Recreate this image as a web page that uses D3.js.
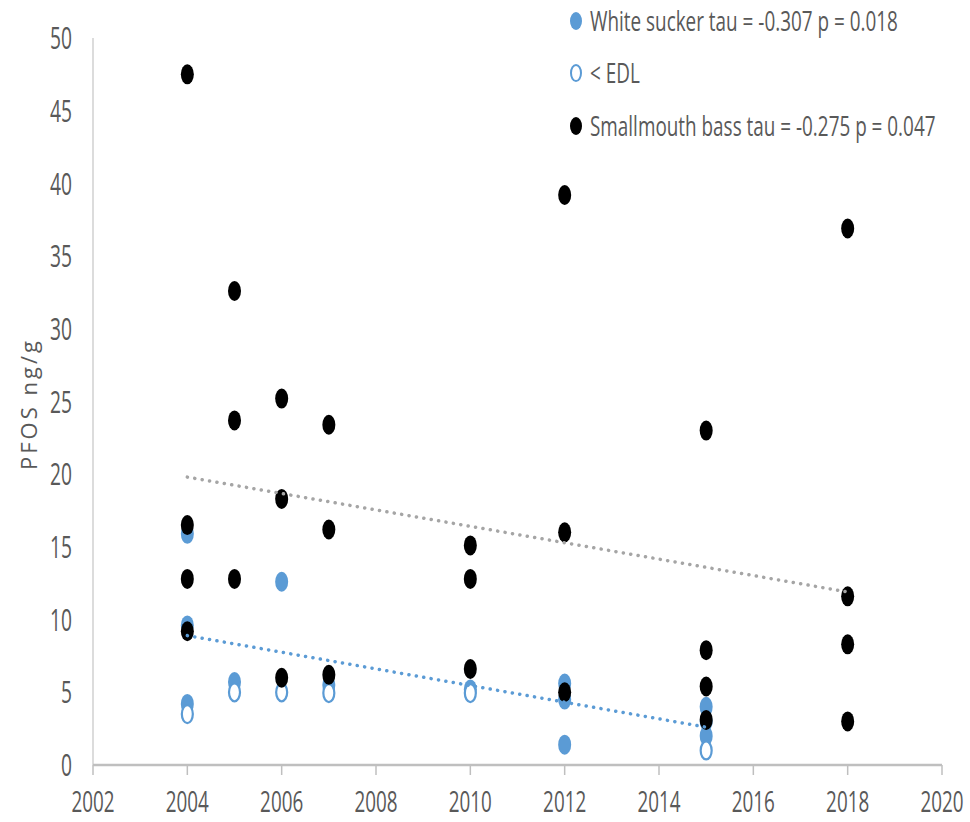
<!DOCTYPE html>
<html lang="en">
<head>
<meta charset="UTF-8">
<title>PFOS ng/g</title>
<style>
    body { margin: 0; padding: 0; background: #fff; }
    text { font-family: "Open Sans", sans-serif; fill: #595959; }
</style>
</head>
<body>
<svg id="chart"></svg>
<script src="https://d3js.org/d3.v7.min.js"></script>
<script>
// White sucker, detected values
var suckerYears  = [2004, 2004, 2004, 2005, 2006, 2007, 2010, 2012, 2012, 2012, 2015, 2015, 2015];
var suckerValues = [15.9, 9.6, 4.2, 5.7, 12.6, 5.5, 5.2, 5.6, 4.5, 1.4, 4.0, 3.0, 2.0];

// White sucker, < EDL
var edlYears  = [2004, 2005, 2006, 2007, 2010, 2015];
var edlValues = [3.5, 5.0, 5.0, 4.95, 4.95, 1.0];

// Smallmouth bass
var bassYears  = [2004, 2004, 2004, 2004, 2005, 2005, 2005, 2006, 2006, 2006, 2007, 2007, 2007,
                  2010, 2010, 2010, 2012, 2012, 2012, 2015, 2015, 2015, 2015, 2018, 2018, 2018, 2018];
var bassValues = [47.5, 16.5, 12.8, 9.2, 32.6, 23.7, 12.8, 25.2, 18.3, 6.0, 23.4, 16.2, 6.2,
                  15.1, 12.8, 6.6, 39.2, 16.0, 5.0, 23.0, 7.9, 5.4, 3.1, 36.9, 11.6, 8.3, 3.0];

// trend lines (start / end)
var suckerTrendYears = [2004, 2015];
var suckerTrendVals  = [8.9, 2.6];
var bassTrendYears   = [2004, 2018];
var bassTrendVals    = [19.8, 11.9];

var xTicks = [2002, 2004, 2006, 2008, 2010, 2012, 2014, 2016, 2018, 2020];
var yTicks = [0, 5, 10, 15, 20, 25, 30, 35, 40, 45, 50];

var legendLabels = ["White sucker tau = -0.307 p = 0.018", "< EDL", "Smallmouth bass tau = -0.275 p = 0.047"];

var blue = "#5b9bd5";

var width = 970, height = 822;
var margin = {top: 38, right: 28, bottom: 57, left: 93};

var svg = d3.select("#chart").attr("width", width).attr("height", height);

var x = d3.scaleLinear().domain([2002, 2020]).range([margin.left, width - margin.right]);
var y = d3.scaleLinear().domain([0, 50]).range([height - margin.bottom, margin.top]);

// the original picture is squeezed sideways, so the text is too
function squeeze(px, py, f) {
    return "translate(" + px + "," + py + ") scale(" + f + ",1)";
}

// y axis
svg.append("line")
    .attr("x1", x(2002)).attr("x2", x(2002))
    .attr("y1", y(50)).attr("y2", y(0))
    .attr("stroke", "#d0d0d0").attr("stroke-width", 1.5);

svg.selectAll(".ylab")
    .data(yTicks)
    .enter().append("text")
    .attr("transform", function (d) { return squeeze(72, y(d), 0.62); })
    .attr("dy", "0.36em")
    .attr("text-anchor", "end")
    .attr("font-size", 31)
    .text(function (d) { return d; });

// x axis
svg.append("line")
    .attr("x1", x(2002)).attr("x2", x(2020))
    .attr("y1", y(0)).attr("y2", y(0))
    .attr("stroke", "#bfbfbf").attr("stroke-width", 2.5);

svg.selectAll(".xtick")
    .data(xTicks)
    .enter().append("line")
    .attr("x1", function (d) { return x(d); })
    .attr("x2", function (d) { return x(d); })
    .attr("y1", y(0)).attr("y2", y(0) + 10)
    .attr("stroke", "#bfbfbf").attr("stroke-width", 1.5);

svg.selectAll(".xlab")
    .data(xTicks)
    .enter().append("text")
    .attr("transform", function (d) { return squeeze(x(d), 812, 0.65); })
    .attr("text-anchor", "middle")
    .attr("font-size", 29)
    .text(function (d) { return d; });

// y title
svg.append("text")
    .attr("transform", "translate(37,404) rotate(-90)")
    .attr("text-anchor", "middle")
    .attr("font-size", 22)
    .attr("letter-spacing", 3)
    .text("PFOS ng/g");

var rx = 6.5, ry = 10;

function dots(years, vals, fill, stroke) {
    svg.append("g").selectAll("ellipse")
        .data(years.map(function (d, i) { return [d, vals[i]]; }))
        .enter().append("ellipse")
        .attr("cx", function (d) { return x(d[0]); })
        .attr("cy", function (d) { return y(d[1]); })
        .attr("rx", stroke ? rx - 1 : rx)
        .attr("ry", stroke ? ry - 1 : ry)
        .attr("fill", fill)
        .attr("stroke", stroke || "none")
        .attr("stroke-width", 2.2);
}

dots(suckerYears, suckerValues, blue);
dots(edlYears, edlValues, "#fff", blue);
dots(bassYears, bassValues, "#000");

function trend(years, vals, color) {
    svg.append("line")
        .attr("x1", x(years[0])).attr("y1", y(vals[0]))
        .attr("x2", x(years[1])).attr("y2", y(vals[1]))
        .attr("stroke", color)
        .attr("stroke-width", 3.5)
        .attr("stroke-linecap", "round")
        .attr("stroke-dasharray", "0.1 7.4");
}

trend(suckerTrendYears, suckerTrendVals, blue);
trend(bassTrendYears, bassTrendVals, "#a5a5a5");

// legend
var legendY = [21, 73, 126];
var lg = svg.append("g");
legendLabels.forEach(function (lab, i) {
    var m = lg.append("ellipse")
        .attr("cx", 576).attr("cy", legendY[i])
        .attr("rx", i === 1 ? 5 : 6).attr("ry", i === 1 ? 8 : 9);
    if (i === 0) m.attr("fill", blue);
    else if (i === 1) m.attr("fill", "#fff").attr("stroke", blue).attr("stroke-width", 2);
    else m.attr("fill", "#000");
    lg.append("text")
        .attr("transform", squeeze(590, legendY[i], 0.7))
        .attr("dy", "0.36em")
        .attr("font-size", 27)
        .text(lab);
});
</script>
</body>
</html>
